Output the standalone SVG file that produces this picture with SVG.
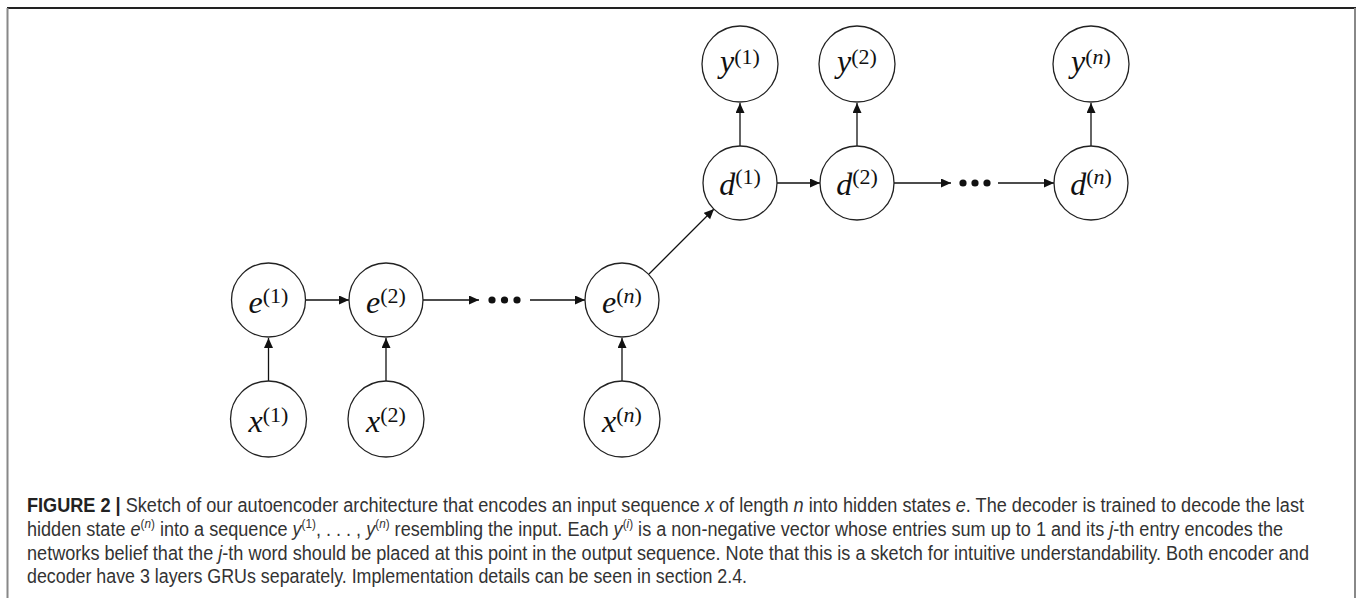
<svg xmlns="http://www.w3.org/2000/svg" width="1358" height="598" viewBox="0 0 1358 598">
<defs>
<marker id="arr" markerUnits="userSpaceOnUse" markerWidth="11" markerHeight="10" refX="10" refY="4.5" orient="auto">
<path d="M0,0 L10,4.5 L0,9 z" fill="#111"/>
</marker>
<style>
.node circle{fill:#fff;stroke:#222;stroke-width:1.3}
.lbl{font-family:"Liberation Serif","Times New Roman",serif;font-size:32px;fill:#111;text-anchor:middle}
.lbl .v{font-style:italic}
.lbl .s{font-size:22px}
.lbl .si{font-size:22px;font-style:italic}
.edge line{stroke:#111;stroke-width:1.3;marker-end:url(#arr)}
.dot{fill:#111}
.cap{font-family:"Liberation Sans",Arial,sans-serif;font-size:20px;fill:#333}
.cap .i{font-style:italic}
.cap .sup{font-size:13px}
.cap .b{font-weight:bold;fill:#222}
</style>
</defs>
<rect x="0" y="0" width="1358" height="598" fill="#fff"/>
<line x1="7" y1="8" x2="1356" y2="8" stroke="#222" stroke-width="2"/>
<line x1="7.5" y1="8" x2="7.5" y2="598" stroke="#888" stroke-width="2"/>
<line x1="1355" y1="8" x2="1355" y2="598" stroke="#888" stroke-width="2"/>

<g id="connectors" class="edge">
<line x1="268.5" y1="381" x2="268.5" y2="338"/>
<line x1="386" y1="381" x2="386" y2="338"/>
<line x1="622" y1="381" x2="622" y2="338"/>
<line x1="306" y1="300" x2="349" y2="300"/>
<line x1="423" y1="300" x2="479" y2="300"/>
<line x1="530" y1="300" x2="585" y2="300"/>
<line x1="649" y1="274" x2="714" y2="209"/>
<line x1="777" y1="183" x2="820" y2="183"/>
<line x1="894" y1="183" x2="951" y2="183"/>
<line x1="998" y1="183" x2="1054" y2="183"/>
<line x1="740" y1="146" x2="740" y2="103"/>
<line x1="857" y1="146" x2="857" y2="103"/>
<line x1="1091" y1="146" x2="1091" y2="103"/>
<circle class="dot" cx="492" cy="300" r="3.6"/>
<circle class="dot" cx="504.5" cy="300" r="3.6"/>
<circle class="dot" cx="517" cy="300" r="3.6"/>
<circle class="dot" cx="963" cy="183" r="3.6"/>
<circle class="dot" cx="975" cy="183" r="3.6"/>
<circle class="dot" cx="987" cy="183" r="3.6"/>
</g>

<g id="x1" class="node"><circle cx="268.5" cy="419" r="38"/><text class="lbl" x="268.5" y="432"><tspan class="v">x</tspan><tspan class="s" dy="-10">(1)</tspan></text></g>
<g id="x2" class="node"><circle cx="386" cy="419" r="38"/><text class="lbl" x="386" y="432"><tspan class="v">x</tspan><tspan class="s" dy="-10">(2)</tspan></text></g>
<g id="xn" class="node"><circle cx="622" cy="419" r="38"/><text class="lbl" x="622" y="432"><tspan class="v">x</tspan><tspan class="s" dy="-10">(</tspan><tspan class="si">n</tspan><tspan class="s">)</tspan></text></g>

<g id="e1" class="node"><circle cx="268.5" cy="300" r="37"/><text class="lbl" x="268.5" y="313"><tspan class="v">e</tspan><tspan class="s" dy="-10">(1)</tspan></text></g>
<g id="e2" class="node"><circle cx="386" cy="300" r="37"/><text class="lbl" x="386" y="313"><tspan class="v">e</tspan><tspan class="s" dy="-10">(2)</tspan></text></g>
<g id="en" class="node"><circle cx="622" cy="300" r="37"/><text class="lbl" x="622" y="313"><tspan class="v">e</tspan><tspan class="s" dy="-10">(</tspan><tspan class="si">n</tspan><tspan class="s">)</tspan></text></g>

<g id="d1" class="node"><circle cx="740" cy="183" r="37"/><text class="lbl" x="740" y="195"><tspan class="v">d</tspan><tspan class="s" dy="-11">(1)</tspan></text></g>
<g id="d2" class="node"><circle cx="857" cy="183" r="37"/><text class="lbl" x="857" y="195"><tspan class="v">d</tspan><tspan class="s" dy="-11">(2)</tspan></text></g>
<g id="dn" class="node"><circle cx="1091" cy="183" r="37"/><text class="lbl" x="1091" y="195"><tspan class="v">d</tspan><tspan class="s" dy="-11">(</tspan><tspan class="si">n</tspan><tspan class="s">)</tspan></text></g>

<g id="y1" class="node"><circle cx="740" cy="64" r="38"/><text class="lbl" x="740" y="72"><tspan class="v">y</tspan><tspan class="s" dy="-8">(1)</tspan></text></g>
<g id="y2" class="node"><circle cx="857" cy="64" r="38"/><text class="lbl" x="857" y="72"><tspan class="v">y</tspan><tspan class="s" dy="-8">(2)</tspan></text></g>
<g id="yn" class="node"><circle cx="1091" cy="64" r="38"/><text class="lbl" x="1091" y="72"><tspan class="v">y</tspan><tspan class="s" dy="-8">(</tspan><tspan class="si">n</tspan><tspan class="s">)</tspan></text></g>

<g id="caption">
<text class="cap" x="27" y="512" textLength="1277" lengthAdjust="spacingAndGlyphs"><tspan class="b">FIGURE 2 |</tspan> Sketch of our autoencoder architecture that encodes an input sequence <tspan class="i">x</tspan> of length <tspan class="i">n</tspan> into hidden states <tspan class="i">e</tspan>. The decoder is trained to decode the last</text>
<text class="cap" x="27" y="536" textLength="1256" lengthAdjust="spacingAndGlyphs">hidden state <tspan class="i">e</tspan><tspan class="sup" dy="-8">(<tspan class="i">n</tspan>)</tspan><tspan dy="8"> into a sequence </tspan><tspan class="i">y</tspan><tspan class="sup" dy="-8">(1)</tspan><tspan dy="8">, . . . , </tspan><tspan class="i">y</tspan><tspan class="sup" dy="-8">(<tspan class="i">n</tspan>)</tspan><tspan dy="8"> resembling the input. Each </tspan><tspan class="i">y</tspan><tspan class="sup" dy="-8">(<tspan class="i">i</tspan>)</tspan><tspan dy="8"> is a non-negative vector whose entries sum up to 1 and its </tspan><tspan class="i">j</tspan>-th entry encodes the</text>
<text class="cap" x="27" y="560" textLength="1282" lengthAdjust="spacingAndGlyphs">networks belief that the <tspan class="i">j</tspan>-th word should be placed at this point in the output sequence. Note that this is a sketch for intuitive understandability. Both encoder and</text>
<text class="cap" x="27" y="583" textLength="720" lengthAdjust="spacingAndGlyphs">decoder have 3 layers GRUs separately. Implementation details can be seen in section 2.4.</text>
</g>
</svg>
